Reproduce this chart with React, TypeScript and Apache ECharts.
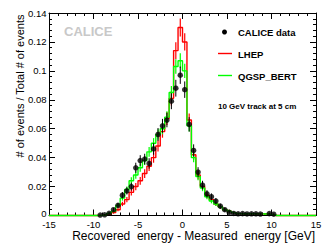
import React, { useEffect, useRef } from "react";
import * as echarts from "echarts";

// Histogram binning: 0.5 GeV bins, first bin starts at -9.5 GeV
const BIN_LO = -9.5;
const BIN_W = 0.5;

// CALICE data (fraction of events per bin), null = no point
const dataValues: (number | null)[] = [
  0.0003, 0.0005, 0.0015, 0.004, 0.007, 0.014, 0.017, 0.02, 0.033, 0.038,
  0.039, 0.036, 0.046, 0.056, 0.062, 0.066, 0.079, 0.088, 0.097, 0.087,
  0.063, 0.045, 0.03, 0.021, 0.015, 0.013, 0.01, 0.0065, 0.004, 0.0022,
  0.0014, 0.0012, 0.0013, 0.0011, 0.0012, 0.0012, 0.001, null, 0.0013, 0.0009,
];
const dataErr: number[] = [
  0.0003, 0.0004, 0.0008, 0.0012, 0.0016, 0.0022, 0.0025, 0.0027, 0.0035, 0.0037,
  0.0037, 0.0036, 0.004, 0.0045, 0.0048, 0.005, 0.0055, 0.0058, 0.006, 0.0057,
  0.005, 0.0042, 0.0034, 0.003, 0.0025, 0.0023, 0.002, 0.0016, 0.0013, 0.001,
  0.0008, 0.0007, 0.0007, 0.0007, 0.0007, 0.0007, 0.0006, 0, 0.0007, 0.0006,
];

// LHEP simulation
const lhepValues: number[] = [
  0.0002, 0.0005, 0.001, 0.002, 0.004, 0.008, 0.011, 0.016, 0.02, 0.024,
  0.029, 0.034, 0.04, 0.048, 0.058, 0.067, 0.081, 0.114, 0.13, 0.12,
  0.066, 0.042, 0.028, 0.02, 0.014, 0.011, 0.008, 0.006, 0.004, 0.003,
  0.002, 0.0013, 0.0012, 0.0012, 0.0011, 0.0012, 0.0011, 0.001, 0.0008, 0.0006,
];
const lhepErr: number[] = [
  0.0002, 0.0003, 0.0005, 0.0008, 0.0011, 0.0015, 0.0018, 0.0022, 0.0025, 0.0027,
  0.003, 0.0032, 0.0035, 0.0038, 0.0042, 0.0045, 0.005, 0.0058, 0.0062, 0.006,
  0.0045, 0.0036, 0.003, 0.0025, 0.002, 0.0018, 0.0015, 0.0013, 0.001, 0.0009,
  0.0007, 0.0006, 0.0006, 0.0006, 0.0006, 0.0006, 0.0006, 0.0005, 0.0005, 0.0004,
];

// QGSP_BERT simulation
const qgspValues: number[] = [
  0.0002, 0.0005, 0.0015, 0.003, 0.007, 0.012, 0.018, 0.024, 0.028, 0.033,
  0.038, 0.044, 0.05, 0.056, 0.06, 0.068, 0.085, 0.103, 0.107, 0.1,
  0.062, 0.04, 0.027, 0.019, 0.013, 0.01, 0.008, 0.006, 0.004, 0.003,
  0.002, 0.0013, 0.0012, 0.0012, 0.0012, 0.0011, 0.0011, 0.001, 0.0008, 0.0006,
];
const qgspErr: number[] = [
  0.0002, 0.0003, 0.0006, 0.0009, 0.0013, 0.0017, 0.0021, 0.0024, 0.0026, 0.0028,
  0.003, 0.0033, 0.0035, 0.0037, 0.0038, 0.0041, 0.0046, 0.005, 0.0051, 0.005,
  0.0039, 0.0032, 0.0026, 0.0022, 0.0018, 0.0016, 0.0014, 0.0012, 0.001, 0.0009,
  0.0007, 0.0006, 0.0006, 0.0006, 0.0006, 0.0006, 0.0006, 0.0005, 0.0005, 0.0004,
];

const xTicks = [-15, -10, -5, 0, 5, 10, 15];
const legendLabels = ["CALICE data", "LHEP", "QGSP_BERT"];
const annotation = "10 GeV track at 5 cm";
const xTitle = "Recovered  energy - Measured  energy [GeV]";
const yTitle = "# of events / Total # of events";

const FONT = "Liberation Sans, Arial, Helvetica, sans-serif";
const RED = "#ff0000";
const GREEN = "#00ff00";

function stepLine(values: number[]): number[][] {
  const pts: number[][] = [[xTicks[0], 0], [BIN_LO, 0]];
  values.forEach((v, i) => {
    const lo = BIN_LO + i * BIN_W;
    pts.push([lo, v], [lo + BIN_W, v]);
  });
  pts.push([BIN_LO + values.length * BIN_W, 0], [xTicks[xTicks.length - 1], 0]);
  return pts;
}

function center(i: number) {
  return BIN_LO + (i + 0.5) * BIN_W;
}

function errData(values: (number | null)[], errs: number[]) {
  const out: number[][] = [];
  values.forEach((v, i) => {
    if (v !== null && errs[i] > 0) out.push([center(i), v - errs[i], v + errs[i]]);
  });
  return out;
}

function errSeries(data: number[][], color: string, width: number, z: number) {
  return {
    type: "custom",
    data,
    z,
    clip: false,
    renderItem: (_p: any, api: any) => {
      const x = api.value(0);
      const p1 = api.coord([x, api.value(1)]);
      const p2 = api.coord([x, api.value(2)]);
      return {
        type: "line",
        shape: { x1: p1[0], y1: p1[1], x2: p2[0], y2: p2[1] },
        style: { stroke: color, lineWidth: width },
      };
    },
  };
}

const axisCommon = {
  axisLine: { show: true, onZero: false, lineStyle: { color: "#000", width: 1 } },
  axisTick: { show: true, inside: true, length: 6, lineStyle: { color: "#000" } },
  minorTick: { show: true, splitNumber: 5, length: 3, lineStyle: { color: "#000" } },
  splitLine: { show: false },
};

export default function App() {
  const ref = useRef<HTMLDivElement>(null);
  useEffect(() => {
    if (!ref.current) return;
    const chart = echarts.init(ref.current, null, { renderer: "svg" });
    const dataPts = dataValues
      .map((v, i) => (v === null ? null : [center(i), v]))
      .filter((p) => p !== null);
    chart.setOption({
      animation: false,
      backgroundColor: "#fff",
      grid: { left: 49, right: 16, top: 13, bottom: 35.5 },
      xAxis: [
        {
          type: "value",
          min: -15,
          max: 15,
          interval: 5,
          position: "bottom",
          ...axisCommon,
          axisLabel: { color: "#000", fontSize: 9.5, fontFamily: FONT, margin: 3.5 },
        },
        {
          type: "value",
          min: -15,
          max: 15,
          interval: 5,
          position: "top",
          ...axisCommon,
          axisLabel: { show: false },
        },
      ],
      yAxis: [
        {
          type: "value",
          min: 0,
          max: 0.14,
          interval: 0.02,
          position: "left",
          ...axisCommon,
          axisLabel: {
            color: "#000",
            fontSize: 9.5,
            fontFamily: FONT,
            margin: 2.5,
            formatter: (v: number) => (v === 0 ? "{z|0}" : String(v)),
            rich: {
              z: { color: "#000", fontSize: 9.5, fontFamily: FONT, padding: [0, 0, 5, 0] },
            },
          },
        },
        {
          type: "value",
          min: 0,
          max: 0.14,
          interval: 0.02,
          position: "right",
          ...axisCommon,
          axisLabel: { show: false },
        },
      ],
      series: [
        {
          name: legendLabels[1],
          type: "line",
          data: stepLine(lhepValues),
          showSymbol: false,
          clip: false,
          lineStyle: { color: RED, width: 1.4 },
          z: 2,
        },
        errSeries(errData(lhepValues, lhepErr), RED, 1.2, 2),
        {
          name: legendLabels[2],
          type: "line",
          data: stepLine(qgspValues),
          showSymbol: false,
          clip: false,
          lineStyle: { color: GREEN, width: 1.4 },
          z: 3,
        },
        errSeries(errData(qgspValues, qgspErr), GREEN, 1.2, 3),
        errSeries(errData(dataValues, dataErr), "#000", 1, 4),
        {
          name: legendLabels[0],
          type: "scatter",
          data: dataPts,
          symbol: "circle",
          symbolSize: 5.5,
          itemStyle: { color: "#000" },
          clip: false,
          z: 5,
        },
      ],
      graphic: [
        {
          type: "text",
          x: 64,
          y: 31,
          style: {
            text: "CALICE",
            fill: "#c8c8c8",
            font: `bold 13px ${FONT}`,
            verticalAlign: "middle",
          },
        },
        { type: "circle", shape: { cx: 224.5, cy: 32, r: 2.5 }, style: { fill: "#000" } },
        {
          type: "text",
          x: 238,
          y: 32.5,
          style: { text: legendLabels[0], fill: "#000", font: `bold 9.5px ${FONT}`, verticalAlign: "middle" },
        },
        {
          type: "line",
          shape: { x1: 218, y1: 53.5, x2: 232, y2: 53.5 },
          style: { stroke: RED, lineWidth: 1.4 },
        },
        {
          type: "text",
          x: 238,
          y: 54.5,
          style: { text: legendLabels[1], fill: "#000", font: `bold 9.5px ${FONT}`, verticalAlign: "middle" },
        },
        {
          type: "line",
          shape: { x1: 218, y1: 75.5, x2: 232, y2: 75.5 },
          style: { stroke: GREEN, lineWidth: 1.4 },
        },
        {
          type: "text",
          x: 238,
          y: 76.5,
          style: { text: legendLabels[2], fill: "#000", font: `bold 9.5px ${FONT}`, verticalAlign: "middle" },
        },
        {
          type: "text",
          x: 218,
          y: 106,
          style: { text: annotation, fill: "#000", font: `bold 8px ${FONT}`, verticalAlign: "middle" },
        },
        {
          type: "text",
          x: 315,
          y: 236,
          style: {
            text: xTitle,
            fill: "#000",
            font: `12px ${FONT}`,
            align: "right",
            verticalAlign: "middle",
          },
        },
        {
          type: "text",
          x: 20,
          y: 86,
          rotation: Math.PI / 2,
          style: {
            text: yTitle,
            fill: "#000",
            font: `11px ${FONT}`,
            align: "center",
            verticalAlign: "middle",
          },
        },
      ],
    });
    return () => chart.dispose();
  }, []);
  return (
    <div
      ref={ref}
      style={{ position: "fixed", left: 0, top: 0, width: 332, height: 251 }}
    />
  );
}
